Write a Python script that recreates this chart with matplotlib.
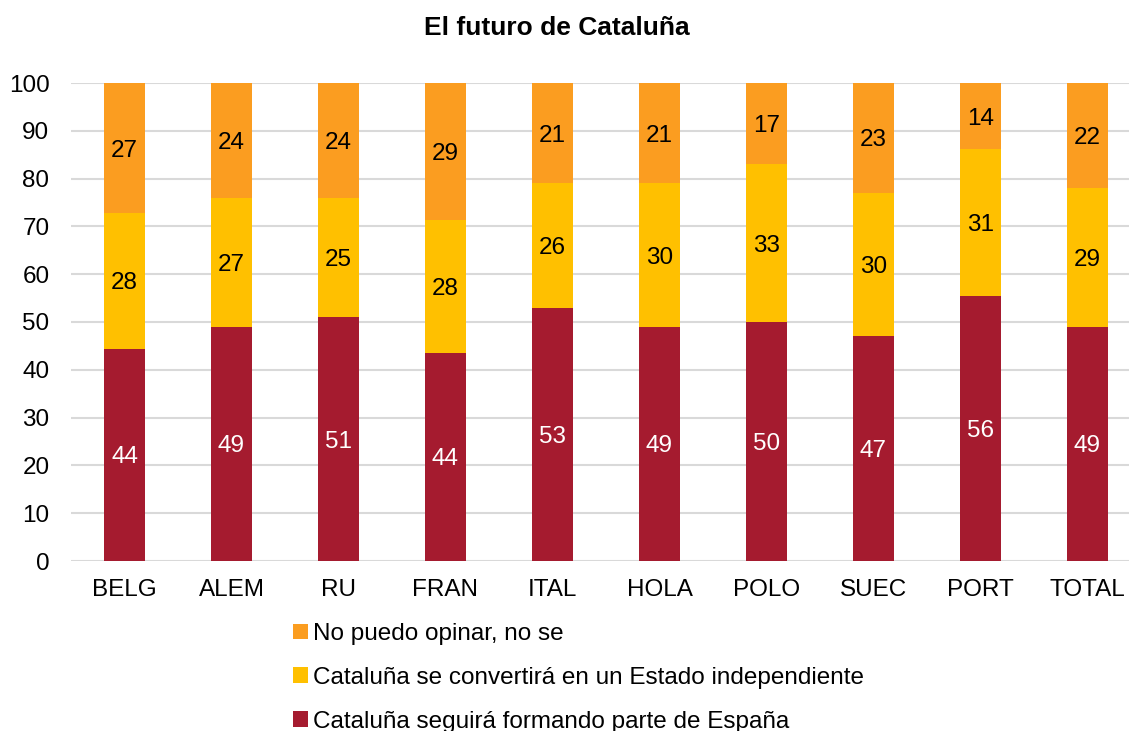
import matplotlib.pyplot as plt
import numpy as np
from matplotlib.patches import Patch

plt.rcParams['font.family'] = ['Liberation Sans', 'DejaVu Sans']

paises = ['BELG', 'ALEM', 'RU', 'FRAN', 'ITAL', 'HOLA', 'POLO', 'SUEC', 'PORT', 'TOTAL']
espana = [44, 49, 51, 44, 53, 49, 50, 47, 56, 49]
independiente = [28, 27, 25, 28, 26, 30, 33, 30, 31, 29]
no_se = [27, 24, 24, 29, 21, 21, 17, 23, 14, 22]

series = [
    ('Cataluña seguirá formando parte de España', espana, '#A51B2F', 'white'),
    ('Cataluña se convertirá en un Estado independiente', independiente, '#FFC000', 'black'),
    ('No puedo opinar, no se', no_se, '#FB9D20', 'black'),
]

FS = 17.5

# apilado al 100 %
total = np.array(espana) + np.array(independiente) + np.array(no_se)

fig = plt.figure(figsize=(11.29, 7.31), dpi=100)
ax = fig.add_axes([71 / 1129, 1 - 561 / 731, 1070 / 1129, 478 / 731])

x = np.arange(len(paises))
base = np.zeros(len(paises))
handles = []
for nombre, vals, color, tcolor in series:
    pct = np.array(vals) / total * 100
    ax.bar(x, pct, 0.39, bottom=base, color=color, edgecolor='none', zorder=3)
    for xi, b, h, v in zip(x, base, pct, vals):
        ax.text(xi, b + h / 2, str(v), ha='center', va='center_baseline',
                fontsize=FS, color=tcolor, zorder=4)
    base = base + pct
    handles.append(Patch(facecolor=color, label=nombre))

ax.set_xlim(-0.5, len(paises) - 0.5)
ax.set_ylim(0, 100)
ax.set_yticks(np.arange(0, 101, 10))
ax.set_xticks(x)
ax.set_xticklabels(paises)
ax.tick_params(axis='both', length=0, labelsize=FS, colors='black')
ax.tick_params(axis='x', pad=13)
ax.tick_params(axis='y', pad=15.5)
ax.grid(axis='y', color='#D9D9D9', lw=1.5, zorder=0)
for s in ax.spines.values():
    s.set_visible(False)

fig.text(557 / 1129, 1 - 28 / 731, 'El futuro de Cataluña', fontsize=19, fontweight='bold',
         ha='center', va='center')

fig.legend(handles=handles[::-1], loc='upper left', bbox_to_anchor=(293 / 1129, 1 - 623 / 731),
           frameon=False, fontsize=FS, handlelength=0.62, handleheight=0.62,
           handletextpad=0.2, labelspacing=0.9, borderaxespad=0, borderpad=0)

fig.savefig('out.png', dpi=100)
